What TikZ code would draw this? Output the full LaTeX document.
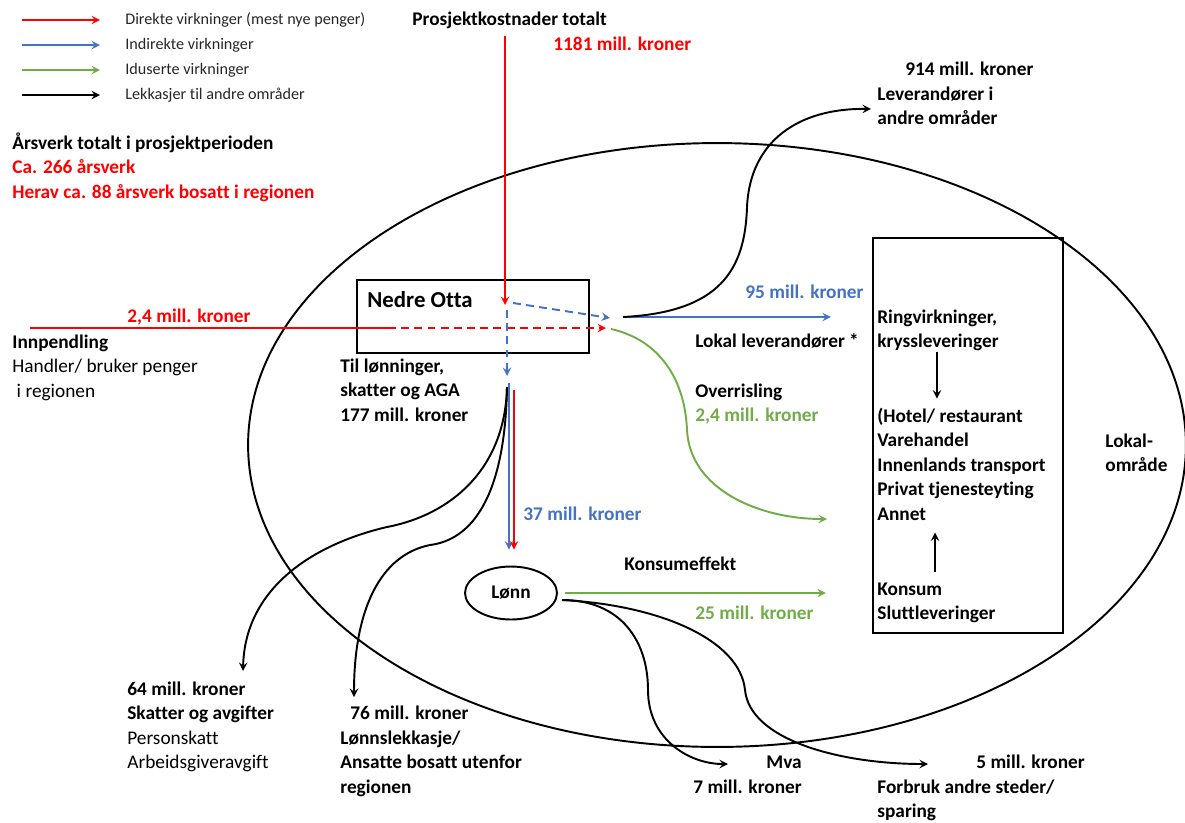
\documentclass[tikz,border=0pt]{standalone}
\usepackage{fontspec}
\setmainfont{Carlito}[Ligatures=NoCommon]
\usepackage{tikz}
\usetikzlibrary{shapes.geometric}
\definecolor{dirred}{RGB}{255,0,0}
\definecolor{indblue}{RGB}{68,114,196}
\definecolor{indgreen}{RGB}{112,173,71}
\tikzset{>=stealth,
  flow/.style={line width=1.1pt},
  dashflow/.style={line width=1.1pt, dash pattern=on 4.5pt off 3pt},
  lbl/.style={inner sep=0pt, anchor=base west, align=left, font=\fontsize{11}{13.9}\selectfont\bfseries},
  leg/.style={inner sep=0pt, anchor=west, font=\fontsize{9.2}{11}\selectfont, text=black!85},
  frame/.style={draw, line width=1.3pt, inner sep=0pt}}

\begin{document}
\begin{tikzpicture}[x=0.02cm, y=-0.02cm]
\useasboundingbox (0,0) rectangle (1185,822);

% forklaring
\node[leg] (leg1) at (125,20) {Direkte virkninger (mest nye penger)};
\node[leg] (leg2) at (125,45) {Indirekte virkninger};
\node[leg] (leg3) at (125,70) {Iduserte virkninger};
\node[leg] (leg4) at (125,95) {Lekkasjer til andre områder};
\draw[->, flow, dirred] ([xshift=-2.06cm]leg1.west) -- ([xshift=-0.5cm]leg1.west);
\draw[->, flow, indblue] ([xshift=-2.06cm]leg2.west) -- ([xshift=-0.5cm]leg2.west);
\draw[->, flow, indgreen] ([xshift=-2.06cm]leg3.west) -- ([xshift=-0.5cm]leg3.west);
\draw[->, flow] ([xshift=-2.06cm]leg4.west) -- ([xshift=-0.5cm]leg4.west);

% (flerlinjede tekster: posisjon = siste linjes grunnlinje)
\node[lbl] (aarsverk) at (12,198) {Årsverk totalt i prosjektperioden\\\textcolor{dirred}{Ca. 266 årsverk}\\\textcolor{dirred}{Herav ca. 88 årsverk bosatt i regionen}};

% områder og bokser
\node[draw, ellipse, flow, inner sep=0pt, minimum width=18.76cm, minimum height=12.08cm] (lokal) at (717,445) {};
\node[frame, minimum width=4.64cm, minimum height=1.46cm] (otta) at (473,316.5) {};
\node[frame, minimum width=3.8cm, minimum height=7.9cm] (ring) at (968,435.5) {};
\node[draw, ellipse, flow, inner sep=0pt, minimum width=1.84cm, minimum height=1.06cm, font=\fontsize{11}{13.9}\selectfont\bfseries] (lonn) at (511,593) {Lønn};
\node[lbl, font=\fontsize{13}{16}\selectfont\bfseries] (ottanavn) at (367,307) {Nedre Otta};

% tekster
\node[lbl] (kostnad) at (412,25) {Prosjektkostnader totalt};
\node[lbl, text=dirred] (kostsum) at (553,50) {1181 mill. kroner};
\node[lbl] (innpend) at (12,397) {Innpendling\\{\mdseries Handler/ bruker penger}\\{\mdseries\ i regionen}};
\node[lbl, text=dirred] (innsum) at (127,322) {2,4 mill. kroner};
\node[lbl] (lonninger) at (340,421) {Til lønninger,\\skatter og AGA\\177 mill. kroner};
\node[lbl] (levsum) at (905,75) {914 mill. kroner};
\node[lbl] (levandre) at (877,124.5) {Leverandører i\\andre områder};
\node[lbl, text=indblue] (lokalsum) at (745,298) {95 mill. kroner};
\node[lbl] (lokallev) at (695,347) {Lokal leverandører *};
\node[lbl] (overrisl) at (695,421.5) {Overrisling\\\textcolor{indgreen}{2,4 mill. kroner}};
\node[lbl, text=indblue] (lonnsum) at (523,520) {37 mill. kroner};
\node[lbl] (konsum) at (624,570) {Konsumeffekt};
\node[lbl, text=indgreen] (konsumsum) at (695,619) {25 mill. kroner};
\node[lbl] (ringvirk) at (877,347.5) {Ringvirkninger,\\kryssleveringer};
\node[lbl] (bransjer) at (877,520) {(Hotel/ restaurant\\Varehandel\\Innenlands transport\\Privat tjenesteyting\\Annet};
\node[lbl] (slutt) at (877,619.5) {Konsum\\Sluttleveringer};
\node[lbl] (lokalomr) at (1105,471.5) {Lokal-\\område};
\node[lbl] (skatt) at (127,768.5) {64 mill. kroner\\Skatter og avgifter\\{\mdseries Personskatt}\\{\mdseries Arbeidsgiveravgift}};
\node[lbl] (lekksum) at (350,719) {76 mill. kroner};
\node[lbl] (lekkasje) at (340,793) {Lønnslekkasje/\\Ansatte bosatt utenfor\\regionen};
\node[lbl] (mva) at (766,768) {Mva};
\node[lbl] (mvasum) at (693,793) {7 mill. kroner};
\node[lbl] (forbruksum) at (976,768) {5 mill. kroner};
\node[lbl] (forbruk) at (877,817.5) {Forbruk andre steder/\\sparing};

% punkter
\coordinate (kost) at (505,36);
\coordinate (fordel) at (505,305);
\coordinate (inn) at (30,328);
\coordinate (inngang) at (388,328);
\coordinate (lokinn) at (606,328);
\coordinate (blstart) at (513,303);
\coordinate (lokut) at (610,318);
\coordinate (bldown) at (507,310);
\coordinate (lonnut) at (507,376);
\coordinate (lev) at (623,317);
\coordinate (over) at (611,329);
\coordinate (levpil) at (871,109);
\coordinate (ringpil) at (827,519);
\coordinate (lonnkilde) at (507,387);
\coordinate (skattpil) at (243,671);
\coordinate (lekkpil) at (354,697);
\coordinate (lonnfra) at (562,600);
\coordinate (mvapil) at (728,764);
\coordinate (forbrukpil) at (928,764);

% piler
\draw[->, flow, dirred] (kost) -- (fordel);
\draw[flow, dirred] (inn) -- (inngang);
\draw[->, dashflow, dirred] (inngang) -- (lokinn);
\draw[->, dashflow, indblue] (blstart) -- (lokut);
\draw[->, dashflow, indblue] (bldown) -- (lonnut);
\draw[->, flow, indblue] (lev) -- ([xshift=-0.82cm]ring.west |- lev);
\draw[->, flow] (lev) .. controls (720,312) and (745,270) .. (747,207) .. controls (750,140) and (800,108) .. (levpil);
\draw[->, flow, indgreen] (over) .. controls (660,340) and (685,380) .. (687,430) .. controls (690,490) and (760,519) .. (ringpil);
\draw[->, flow, indblue] (509,383) -- ([xshift=-0.04cm, yshift=0.32cm]lonn.north);
\draw[->, flow, dirred] (514,390) -- ([xshift=0.06cm, yshift=0.32cm]lonn.north);
\draw[->, flow] (lonnkilde) .. controls (505,470) and (450,515) .. (387,527) .. controls (310,545) and (245,590) .. (skattpil);
\draw[->, flow] (lonnkilde) .. controls (505,500) and (470,540) .. (430,545) .. controls (380,555) and (354,610) .. (lekkpil);
\draw[->, flow, indgreen] ([xshift=0.14cm]lonn.east) -- ([xshift=-0.92cm]ring.west |- lonn.east);
\draw[->, flow] (lonnfra) .. controls (620,600) and (648,640) .. (648,690) .. controls (648,740) and (690,764) .. (mvapil);
\draw[->, flow] (lonnfra) .. controls (660,605) and (740,640) .. (745,690) .. controls (750,740) and (840,764) .. (forbrukpil);
\draw[->, flow] ([xshift=1.2cm, yshift=-0.02cm]ringvirk.south west) -- ([xshift=1.2cm, yshift=0.18cm]bransjer.north west);
\draw[->, flow] ([xshift=1.16cm, yshift=0.21cm]slutt.north west) -- ([xshift=1.16cm, yshift=-0.24cm]bransjer.south west);
\end{tikzpicture}
\end{document}
